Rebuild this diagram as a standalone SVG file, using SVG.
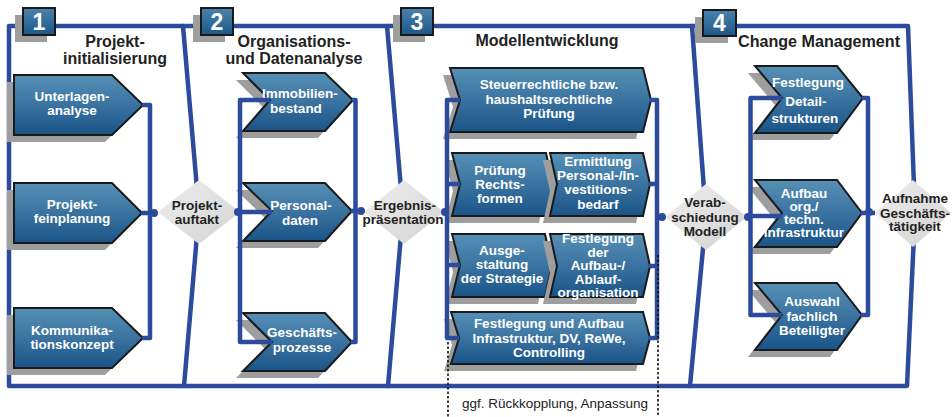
<svg xmlns="http://www.w3.org/2000/svg" width="952" height="417" viewBox="0 0 952 417">
<defs>
<linearGradient id="nodeGrad" x1="0" y1="0" x2="0" y2="1">
<stop offset="0" stop-color="#5690B6"/>
<stop offset="0.5" stop-color="#3A73A0"/>
<stop offset="1" stop-color="#1A5488"/>
</linearGradient>
<linearGradient id="diaGrad" x1="0" y1="0" x2="1" y2="1">
<stop offset="0" stop-color="#EEEEEE"/>
<stop offset="1" stop-color="#D3D3D3"/>
</linearGradient>
<linearGradient id="badgeGrad" x1="0" y1="0" x2="0" y2="1">
<stop offset="0" stop-color="#4A83AC"/>
<stop offset="1" stop-color="#1C5789"/>
</linearGradient>
</defs>
<style>
.frame{fill:none;stroke:#2D4B9C;stroke-width:4.5;stroke-linejoin:round;stroke-linecap:round}
.conn{fill:none;stroke:#2D4B9C;stroke-width:4.5;stroke-linejoin:round}
.dot{fill:#2D4B9C}
.dotted{fill:none;stroke:#111;stroke-width:1.6;stroke-dasharray:2.5 2}
.shadow{fill:#9E9E9E}
.node{fill:url(#nodeGrad);stroke:#1A1A1A;stroke-width:2;stroke-linejoin:miter}
.dia{fill:url(#diaGrad)}
.badge{fill:url(#badgeGrad);stroke:#1A1A1A;stroke-width:2}
.num{font-family:"Liberation Sans",Arial,sans-serif;font-weight:bold;font-size:23px;fill:#fff;text-anchor:middle}
.title{font-family:"Liberation Sans",Arial,sans-serif;font-weight:bold;font-size:16px;fill:#222;text-anchor:middle}
.nt{font-family:"Liberation Sans",Arial,sans-serif;font-weight:bold;font-size:13.5px;fill:#fff;text-anchor:middle}
.dt{font-family:"Liberation Sans",Arial,sans-serif;font-weight:bold;font-size:13.5px;fill:#222;text-anchor:middle}
.note{font-family:"Liberation Sans",Arial,sans-serif;font-size:13.5px;fill:#222;text-anchor:middle}
</style>
<rect width="952" height="417" fill="#fff"/>

<g id="frame">
<path class="frame" d="M9,26 H908 L915,213 L907,386 H9 Z"/>
<path class="frame" d="M183,26 L199,212 L184,386"/>
<path class="frame" d="M387,26 L403,212 L388,386"/>
<path class="frame" d="M692,26 L706,217 L690,386"/>
</g>

<g id="phase1-header">
<rect class="shadow" x="15" y="15" width="32" height="27"/>
<rect class="badge" x="23" y="8" width="32" height="27"/>
<text class="num" x="39" y="30">1</text>
<text class="title" x="115" y="47">Projekt-</text>
<text class="title" x="115" y="64">initialisierung</text>
</g>
<g id="phase2-header">
<rect class="shadow" x="193" y="15" width="32" height="27"/>
<rect class="badge" x="201" y="8" width="32" height="27"/>
<text class="num" x="217" y="30">2</text>
<text class="title" x="294" y="47">Organisations-</text>
<text class="title" x="294" y="64">und Datenanalyse</text>
</g>
<g id="phase3-header">
<rect class="shadow" x="393" y="15" width="32" height="27"/>
<rect class="badge" x="401" y="8" width="32" height="27"/>
<text class="num" x="417" y="30">3</text>
<text class="title" x="547" y="46">Modellentwicklung</text>
</g>
<g id="phase4-header">
<rect class="shadow" x="695" y="17" width="33" height="26"/>
<rect class="badge" x="703" y="10" width="33" height="26"/>
<text class="num" x="719.5" y="31">4</text>
<text class="title" x="819" y="47" textLength="162" lengthAdjust="spacingAndGlyphs">Change Management</text>
</g>

<g id="n-unterlagen">
<path class="shadow" d="M7,82 H105 L136,112 L105,142 H7 Z"/>
<path class="node" d="M14,75 H112 L143,105 L112,135 H14 Z"/>
<text class="nt" x="72" y="101">Unterlagen-</text>
<text class="nt" x="72" y="115">analyse</text>
</g>
<g id="n-feinplanung">
<path class="shadow" d="M7,190 H105 L135,220 L105,250 H7 Z"/>
<path class="node" d="M14,183 H112 L142,213 L112,243 H14 Z"/>
<text class="nt" x="72" y="209">Projekt-</text>
<text class="nt" x="72" y="223">feinplanung</text>
</g>
<g id="n-kommunikation">
<path class="shadow" d="M7,315 H105 L136,345 L105,375 H7 Z"/>
<path class="node" d="M14,308 H112 L143,338 L112,368 H14 Z"/>
<text class="nt" x="72" y="335">Kommunika-</text>
<text class="nt" x="72" y="349">tionskonzept</text>
</g>

<g id="n-immobilien">
<path class="shadow" d="M236,80 H318 L346,107 L318,138 H236 L263,107 Z"/>
<path class="node" d="M243,73 H325 L353,100 L325,131 H243 L270,100 Z"/>
<text class="nt" x="300" y="98">Immobilien-</text>
<text class="nt" x="296" y="113">bestand</text>
</g>
<g id="n-personal">
<path class="shadow" d="M236,190 H318 L345,218 L318,248 H236 L265,218 Z"/>
<path class="node" d="M243,183 H325 L352,211 L325,241 H243 L272,211 Z"/>
<text class="nt" x="301" y="210">Personal-</text>
<text class="nt" x="300" y="225">daten</text>
</g>
<g id="n-geschaeftsprozesse">
<path class="shadow" d="M236,320 H318 L345,349 L318,378 H236 L265,349 Z"/>
<path class="node" d="M243,313 H325 L352,342 L325,371 H243 L272,342 Z"/>
<text class="nt" x="302" y="337">Geschäfts-</text>
<text class="nt" x="302" y="352">prozesse</text>
</g>

<g id="n-steuer">
<path class="shadow" d="M443,75 H636 L644,107 L636,139 H443 L453,107 Z"/>
<path class="node" d="M450,68 H643 L651,100 L643,132 H450 L460,100 Z"/>
<text class="nt" x="549" y="89">Steuerrechtliche bzw.</text>
<text class="nt" x="549" y="104">haushaltsrechtliche</text>
<text class="nt" x="549" y="118">Prüfung</text>
</g>
<g id="n-rechtsformen">
<path class="shadow" d="M445,160 H539 L546,191 L539,223 H445 L453,191 Z"/>
<path class="node" d="M452,153 H546 L553,184 L546,216 H452 L460,184 Z"/>
<text class="nt" x="500" y="175">Prüfung</text>
<text class="nt" x="500" y="189">Rechts-</text>
<text class="nt" x="500" y="203">formen</text>
</g>
<g id="n-ermittlung">
<path class="shadow" d="M543,160 H636 L643,191 L636,223 H543 L550,191 Z"/>
<path class="node" d="M550,153 H643 L650,184 L643,216 H550 L557,184 Z"/>
<text class="nt" x="598" y="166">Ermittlung</text>
<text class="nt" x="598" y="180">Personal-/In-</text>
<text class="nt" x="598" y="194">vestitions-</text>
<text class="nt" x="598" y="209">bedarf</text>
</g>
<g id="n-strategie">
<path class="shadow" d="M445,241 H538 L545,272 L538,304 H445 L453,272 Z"/>
<path class="node" d="M452,234 H545 L552,265 L545,297 H452 L460,265 Z"/>
<text class="nt" x="502" y="255">Ausge-</text>
<text class="nt" x="502" y="269">staltung</text>
<text class="nt" x="502" y="283">der Strategie</text>
</g>
<g id="n-aufbauorg">
<path class="shadow" d="M543,241 H636 L643,273 L636,304 H543 L550,273 Z"/>
<path class="node" d="M550,234 H643 L650,266 L643,297 H550 L557,266 Z"/>
<text class="nt" x="598" y="243">Festlegung</text>
<text class="nt" x="598" y="257">der</text>
<text class="nt" x="598" y="270">Aufbau-/</text>
<text class="nt" x="598" y="284">Ablauf-</text>
<text class="nt" x="598" y="297">organisation</text>
</g>
<g id="n-infrastruktur">
<path class="shadow" d="M444,319 H636 L643,345 L636,371 H444 L452,345 Z"/>
<path class="node" d="M451,312 H643 L650,338 L643,364 H451 L459,338 Z"/>
<text class="nt" x="549" y="328">Festlegung und Aufbau</text>
<text class="nt" x="549" y="343">Infrastruktur, DV, ReWe,</text>
<text class="nt" x="549" y="357">Controlling</text>
</g>

<g id="n-detailstrukturen">
<path class="shadow" d="M748,73 H830 L856,105 L830,140 H748 L775,105 Z"/>
<path class="node" d="M755,66 H837 L863,98 L837,133 H755 L782,98 Z"/>
<text class="nt" x="808" y="87">Festlegung</text>
<text class="nt" x="806" y="106">Detail-</text>
<text class="nt" x="805" y="123">strukturen</text>
</g>
<g id="n-techinfra">
<path class="shadow" d="M748,187 H830 L855,220 L830,254 H748 L775,220 Z"/>
<path class="node" d="M755,180 H837 L862,213 L837,247 H755 L782,213 Z"/>
<text class="nt" x="804" y="198">Aufbau</text>
<text class="nt" x="804" y="211">org./</text>
<text class="nt" x="804" y="224">techn.</text>
<text class="nt" x="804" y="237">Infrastruktur</text>
</g>
<g id="n-auswahl">
<path class="shadow" d="M748,290 H830 L855,322 L830,357 H748 L775,322 Z"/>
<path class="node" d="M755,283 H837 L862,315 L837,350 H755 L782,315 Z"/>
<text class="nt" x="812" y="306">Auswahl</text>
<text class="nt" x="812" y="321">fachlich</text>
<text class="nt" x="812" y="335">Beteiligter</text>
</g>

<g id="d-projektauftakt">
<path class="dia" d="M199,180 L240,212 L199,244 L158,212 Z"/>
<text class="dt" x="197" y="210">Projekt-</text>
<text class="dt" x="197" y="224">auftakt</text>
</g>
<g id="d-ergebnis">
<path class="dia" d="M404,180 L444,212 L404,244 L364,212 Z"/>
<text class="dt" x="405" y="210">Ergebnis-</text>
<text class="dt" x="403" y="224">präsentation</text>
</g>
<g id="d-verabschiedung">
<path class="dia" d="M706,184 L747,217 L706,250 L665,217 Z"/>
<text class="dt" x="705" y="207">Verab-</text>
<text class="dt" x="705" y="222">schiedung</text>
<text class="dt" x="705" y="236">Modell</text>
</g>
<g id="d-aufnahme">
<path class="dia" d="M913,180 L951,213 L913,247 L875,213 Z"/>
<text class="dt" x="915" y="203">Aufnahme</text>
<text class="dt" x="915" y="218">Geschäfts-</text>
<text class="dt" x="915" y="231">tätigkeit</text>
</g>

<g id="connectors">
<path class="conn" d="M142,105 H150 V338 H142"/>
<path class="conn" d="M141,213 H157"/>
<circle class="dot" cx="154" cy="213" r="4"/>
<path class="conn" d="M270,100 H240 V342 H272"/>
<path class="conn" d="M238,212 H272"/>
<circle class="dot" cx="238" cy="212" r="4"/>
<path class="conn" d="M352,100 H355.5 V342 H351"/>
<path class="conn" d="M351,211 H363"/>
<circle class="dot" cx="361" cy="211" r="4"/>
<path class="conn" d="M460,100 H447 V338 H459"/>
<path class="conn" d="M460,184 H447"/>
<path class="conn" d="M460,265 H447"/>
<path class="conn" d="M444,212 H447"/>
<circle class="dot" cx="445" cy="212" r="4"/>
<path class="conn" d="M650,100 H657 V338 H649"/>
<path class="conn" d="M649,184 H657"/>
<path class="conn" d="M649,266 H657"/>
<path class="conn" d="M657,217 H665"/>
<circle class="dot" cx="662" cy="217" r="4"/>
<path class="conn" d="M782,98 H750.5 V315 H782"/>
<path class="conn" d="M747,216 H782"/>
<circle class="dot" cx="748" cy="217" r="4"/>
<path class="conn" d="M862,98 H868 V315 H861"/>
<path class="conn" d="M861,213 H875"/>
<circle class="dot" cx="869" cy="212" r="4"/>
<path class="dotted" d="M448,342 V417"/>
<path class="dotted" d="M658,255 V417"/>
</g>

<text class="note" x="555" y="408">ggf. Rückkopplung, Anpassung</text>
</svg>
